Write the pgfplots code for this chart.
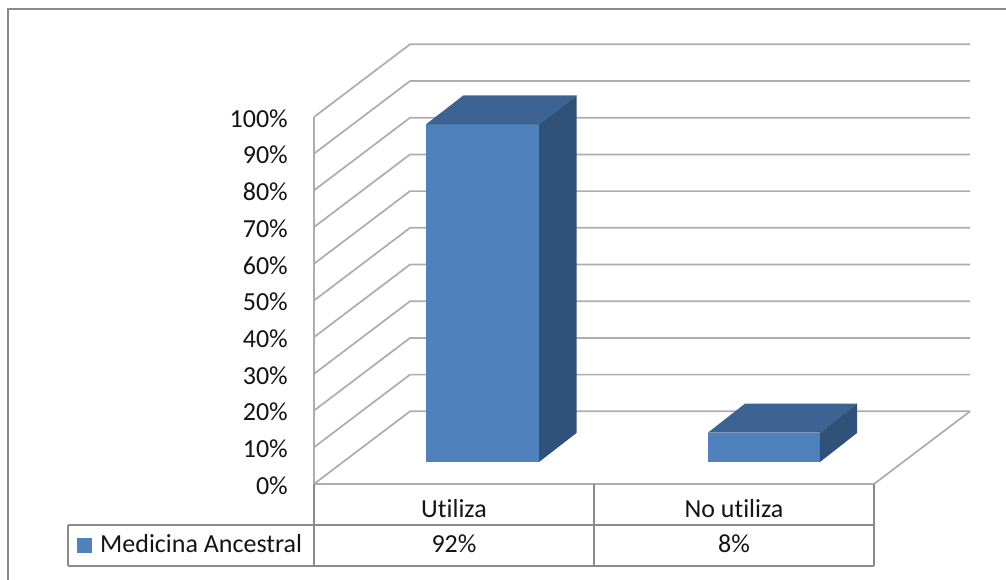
\documentclass[border=0pt]{standalone}
\usepackage{fontspec}
\setmainfont[Ligatures=NoCommon]{Carlito}
\usepackage{pgfplots}
\pgfplotsset{compat=1.18}
\definecolor{barface}{HTML}{4F81BD}
\definecolor{bartop}{HTML}{3C6391}
\definecolor{barside}{HTML}{30527A}
\definecolor{wall}{HTML}{ADADAD}
\definecolor{tableline}{HTML}{8A8A8A}
% Bars stand on the floor, lifted 6 units and set back from the front edge
\newcommand{\lift}{6}
\newcommand{\chartfont}{\fontsize{26}{28}\selectfont}
\begin{document}
\begin{tikzpicture}[x=1pt,y=1pt]
\useasboundingbox (0,0) rectangle (1006,580);
\fill[white] (0,0) rectangle (1006,580);
% Chart frame: only the top and left edges are visible
\draw[tableline,line width=1.5pt] (8,0) -- (8,571) -- (1006,571);
\begin{axis}[
  at={(314pt,96pt)},anchor=south west,
  scale only axis,width=560pt,height=367pt,
  xmin=0,xmax=2,ymin=0,ymax=100,
  clip=false,
  axis line style={draw=none},
  major tick length=0pt,
  tick style={draw=none},
  xtick={0.5,1.5},xticklabels={Utiliza,No utiliza},
  ytick={0,10,...,100},
  yticklabels={0\%,10\%,20\%,30\%,40\%,50\%,60\%,70\%,80\%,90\%,100\%},
  tick label style={font=\chartfont,text=black!92},
  yticklabel style={anchor=east,inner sep=0pt,xshift=-26pt,yshift=-1.5pt},
  xticklabel style={anchor=base,inner sep=0pt,yshift=-34pt},
]
% Side wall and back wall gridlines
\pgfplotsinvokeforeach{0,10,...,100}{
  \addplot[wall,line width=1.7pt,line join=round] table[row sep=\\,x=x,y expr=\thisrow{y}+#1] {
    x y \\
    0 0 \\
    0.3429 19.8 \\
    2.3429 19.8 \\
  };
}
\addplot[wall,line width=1.7pt] coordinates {(0,0) (0,100)};
% Floor edges
\addplot[wall,line width=1.7pt,line join=round] coordinates {(0,0) (2,0) (2.3429,19.8)};
% First category: 92
\addplot[fill=barface,draw=none] table[x=x,y expr=\thisrow{y}+\lift] {
  x      y
  0.4000 0
  0.8036 0
  0.8036 92
  0.4000 92
} --cycle;
\addplot[fill=bartop,draw=none] table[x=x,y expr=\thisrow{y}+\lift] {
  x      y
  0.4000 92
  0.8036 92
  0.9375 99.9
  0.5339 99.9
} --cycle;
\addplot[fill=barside,draw=none] table[x=x,y expr=\thisrow{y}+\lift] {
  x      y
  0.8036 0
  0.9375 7.9
  0.9375 99.9
  0.8036 92
} --cycle;
% Second category: 8
\addplot[fill=barface,draw=none] table[x=x,y expr=\thisrow{y}+\lift] {
  x      y
  1.4071 0
  1.8071 0
  1.8071 8
  1.4071 8
} --cycle;
\addplot[fill=bartop,draw=none] table[x=x,y expr=\thisrow{y}+\lift] {
  x      y
  1.4071 8
  1.8071 8
  1.9393 15.9
  1.5393 15.9
} --cycle;
\addplot[fill=barside,draw=none] table[x=x,y expr=\thisrow{y}+\lift] {
  x      y
  1.8071 0
  1.9393 7.9
  1.9393 15.9
  1.8071 8
} --cycle;
\end{axis}
% Data table below the plot
\draw[tableline,line width=1.6pt]
  (68,55) -- (874,55)
  (68,14) -- (874,14)
  (68,14) -- (68,55)
  (314,14) -- (314,96)
  (594,14) -- (594,96)
  (874,14) -- (874,96);
\fill[barface] (77,27) rectangle (92,42);
\node[anchor=base west,inner sep=0pt,font=\chartfont,text=black!92] at (100,27) {Medicina Ancestral};
\node[anchor=base,inner sep=0pt,font=\chartfont,text=black!92] at (454,27) {92\%};
\node[anchor=base,inner sep=0pt,font=\chartfont,text=black!92] at (734,27) {8\%};
\end{tikzpicture}
\end{document}
